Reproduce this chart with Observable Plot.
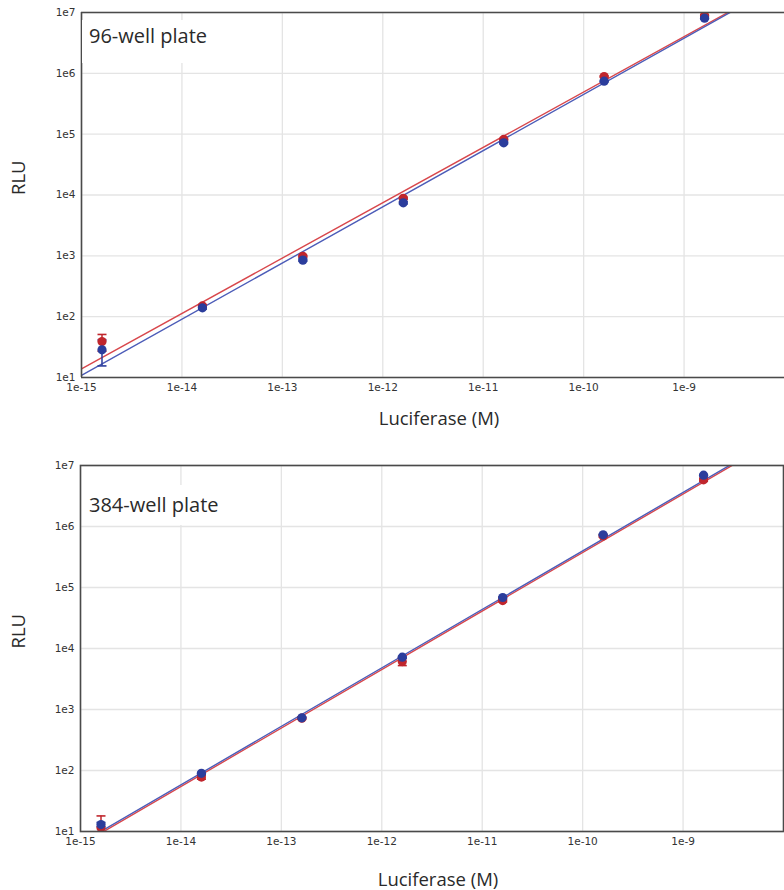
<!DOCTYPE html>
<html><head><meta charset="utf-8">
<script src="https://cdn.jsdelivr.net/npm/d3@7"></script>
<script src="https://cdn.jsdelivr.net/npm/@observablehq/plot@0.6"></script>
<style>
body{margin:0;background:#fff;}
#wrap{position:relative;width:784px;height:890px;overflow:hidden;}
.panel{position:relative;width:784px;height:445px;}
.panel svg{display:block;}
.tag{position:absolute;background:#fff;font-family:"Open Sans","Noto Sans",sans-serif;font-size:20px;line-height:20px;color:#2a2a2a;}
</style></head><body>
<div id="wrap">
  <div class="panel" id="p1"><div class="tag" style="left:82px;top:20px;padding:6px 10px 17px 7px;">96-well plate</div></div>
  <div class="panel" id="p2"><div class="tag" style="left:82px;top:40px;padding:10px 22px 10px 7px;">384-well plate</div></div>
</div>
<script>
// ---- data ----
const concentration = [1.6e-15, 1.6e-14, 1.6e-13, 1.6e-12, 1.6e-11, 1.6e-10, 1.6e-9];
const xTicks = [1e-15, 1e-14, 1e-13, 1e-12, 1e-11, 1e-10, 1e-9];
const xTickLabels = ["1e-15", "1e-14", "1e-13", "1e-12", "1e-11", "1e-10", "1e-9"];
const yTicks = [1e1, 1e2, 1e3, 1e4, 1e5, 1e6, 1e7];
const yTickLabels = ["1e1", "1e2", "1e3", "1e4", "1e5", "1e6", "1e7"];
const fitX = [1e-15, 1e-8];

// 96-well plate
const w96Red = [39, 150, 980, 8850, 82000, 887000, 8.9e6];
const w96RedLow = [27, 142, 945, 8500, 79500, 862000, 8.6e6];
const w96RedHigh = [51, 158, 1015, 9200, 84500, 912000, 9.2e6];
const w96Blue = [28.5, 140, 850, 7450, 72000, 743000, 8.07e6];
const w96BlueLow = [15.5, 133, 815, 7150, 69500, 722000, 7.8e6];
const w96BlueHigh = [41.5, 147, 885, 7750, 74500, 764000, 8.35e6];
const w96RedFit = [13.9, 3.26e7];
const w96BlueFit = [10.8, 3.17e7];

// 384-well plate
const w384Red = [11.5, 78, 720, 6100, 61000, 700000, 5.83e6];
const w384RedLow = [5, 72, 690, 5250, 58000, 670000, 5.5e6];
const w384RedHigh = [18, 84, 750, 6950, 64000, 730000, 6.2e6];
const w384Blue = [13, 90, 731, 7200, 68600, 731000, 6.93e6];
const w384BlueLow = [12, 87, 715, 7000, 67000, 715000, 6.75e6];
const w384BlueHigh = [14, 93, 747, 7400, 70200, 747000, 7.1e6];
const w384RedFit = [6.0, 3.1e7];
const w384BlueFit = [6.4, 3.29e7];

// ---- styles ----
const ptRed = "#c0262d", ptBlue = "#2b3d9c";
const lnRed = "#d8474c", lnBlue = "#4c5cb8";
const gridColor = "#e4e4e4", frameColor = "#4a4a4a";
const titleFont = "Open Sans, Noto Sans, sans-serif";
const cap = {draw(ctx, size) { const r = Math.sqrt(size / Math.PI); ctx.moveTo(-r, 0); ctx.lineTo(r, 0); }};

function rows(vals, lo, hi) {
  return concentration.map((c, i) => ({x: c, y: vals[i], lo: lo[i], hi: hi[i]}));
}
function fitRows(vals) { return fitX.map((x, i) => ({x, y: vals[i]})); }

function panel(o) {
  const red = rows(o.red, o.redLow, o.redHigh);
  const blue = rows(o.blue, o.blueLow, o.blueHigh);
  const frameMarks = o.openRight
    ? [Plot.ruleY([1e1, 1e7], {stroke: frameColor, strokeWidth: 1.6}), Plot.ruleX([1e-15], {stroke: frameColor, strokeWidth: 1.6})]
    : [Plot.frame({stroke: frameColor, strokeWidth: 1.6})];
  const errMarks = (data, color) => [
    Plot.ruleX(data, {x: "x", y1: "lo", y2: "hi", stroke: color, strokeWidth: 1.5, clip: true}),
    Plot.dot(data, {x: "x", y: "lo", symbol: cap, r: 4.5, stroke: color, strokeWidth: 1.6, clip: true}),
    Plot.dot(data, {x: "x", y: "hi", symbol: cap, r: 4.5, stroke: color, strokeWidth: 1.6, clip: true})
  ];
  return Plot.plot({
    width: 784, height: o.height,
    marginLeft: o.marginLeft, marginRight: o.marginRight, marginTop: o.marginTop, marginBottom: o.marginBottom,
    style: {fontFamily: "DejaVu Sans, sans-serif", fontSize: "10.5px", color: "#333", background: "transparent"},
    x: {type: "log", domain: [1e-15, 1e-8], axis: null},
    y: {type: "log", domain: [1e1, 1e7], axis: null},
    marks: [
      Plot.gridX(xTicks, {stroke: gridColor, strokeOpacity: 1, strokeWidth: 1.3}),
      Plot.gridY(yTicks, {stroke: gridColor, strokeOpacity: 1, strokeWidth: 1.3}),
      Plot.line(fitRows(o.redFit), {x: "x", y: "y", stroke: lnRed, strokeWidth: 1.4, clip: true}),
      Plot.line(fitRows(o.blueFit), {x: "x", y: "y", stroke: lnBlue, strokeWidth: 1.4, clip: true}),
      ...errMarks(red, ptRed),
      ...errMarks(blue, ptBlue),
      Plot.dot(red, {x: "x", y: "y", r: 4.6, fill: ptRed, clip: true}),
      Plot.dot(blue, {x: "x", y: "y", r: 4.6, fill: ptBlue, clip: true}),
      ...frameMarks,
      Plot.axisX(xTicks, {tickSize: 0, tickPadding: 6, tickFormat: d => xTickLabels[xTicks.indexOf(d)], label: null, fill: "#333"}),
      Plot.axisY(yTicks, {tickSize: 0, tickPadding: 6, tickFormat: d => yTickLabels[yTicks.indexOf(d)], label: null, fill: "#333"}),
      Plot.text(["Luciferase (M)"], {frameAnchor: "bottom", lineAnchor: "middle", dx: o.xTitleDx, dy: o.xTitleDy, fontFamily: titleFont, fontSize: 18.5, fill: "#2a2a2a"}),
      Plot.text(["RLU"], {frameAnchor: "left", lineAnchor: "middle", dx: -(o.marginLeft - 19), rotate: -90, fontFamily: titleFont, fontSize: 18.5, fill: "#2a2a2a"})
    ]
  });
}

document.getElementById("p1").prepend(panel({
  red: w96Red, redLow: w96RedLow, redHigh: w96RedHigh,
  blue: w96Blue, blueLow: w96BlueLow, blueHigh: w96BlueHigh,
  redFit: w96RedFit, blueFit: w96BlueFit,
  height: 445, marginTop: 12, marginBottom: 68, marginLeft: 81, marginRight: 0,
  openRight: true, xTitleDx: 6, xTitleDy: 42
}));
document.getElementById("p2").prepend(panel({
  red: w384Red, redLow: w384RedLow, redHigh: w384RedHigh,
  blue: w384Blue, blueLow: w384BlueLow, blueHigh: w384BlueHigh,
  redFit: w384RedFit, blueFit: w384BlueFit,
  height: 445, marginTop: 20, marginBottom: 59, marginLeft: 80, marginRight: 1,
  openRight: false, xTitleDx: 6, xTitleDy: 49
}));
</script>
</body></html>
